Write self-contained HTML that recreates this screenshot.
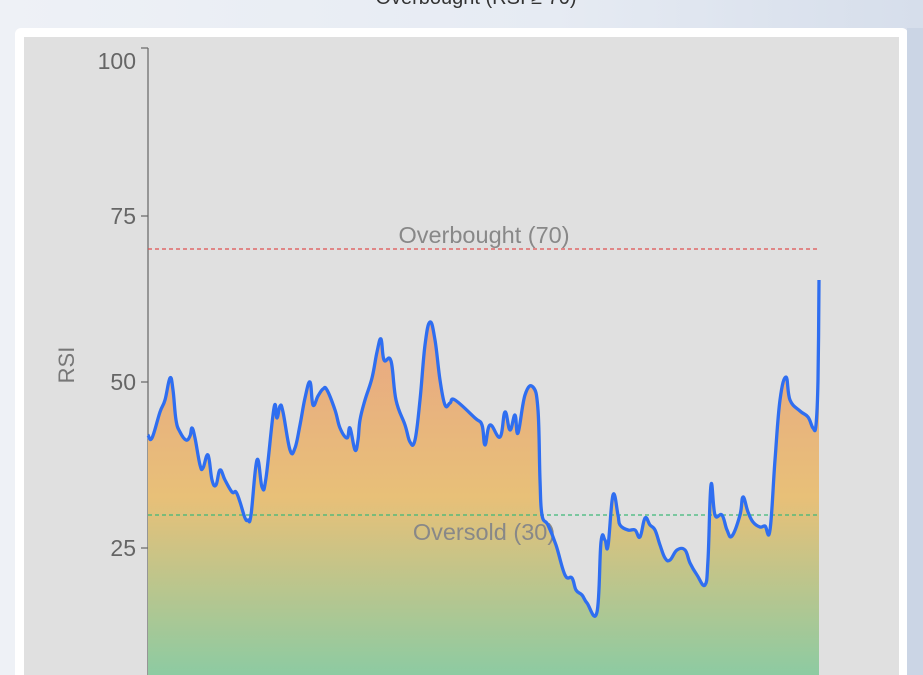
<!DOCTYPE html>
<html><head><meta charset="utf-8"><style>
html,body{margin:0;padding:0;width:923px;height:675px;overflow:hidden;}
body{background:linear-gradient(90deg,#eef1f6 0%,#e6ebf3 60%,#d6deeb 100%);font-family:"Liberation Sans",sans-serif;position:relative;}
.card{position:absolute;left:15px;top:28px;width:893px;height:647px;background:#fff;border-radius:6px 6px 0 0;}
.plot{position:absolute;left:24px;top:37px;width:875px;height:638px;background:#e0e0e0;}
.right{position:absolute;left:907px;top:28px;width:16px;height:647px;background:#cbd5e5;}
</style></head><body>
<div style="position:absolute;left:0;top:-13px;width:952px;text-align:center;font-size:20px;color:#333;">Overbought (RSI ≥ 70)</div>
<div class="card"></div><div class="right"></div><div class="plot"></div>
<svg width="923" height="675" style="position:absolute;left:0;top:0">
<defs><linearGradient id="g" gradientUnits="userSpaceOnUse" x1="0" y1="320" x2="0" y2="675">
<stop offset="0" stop-color="#e9a684"/><stop offset="0.5" stop-color="#e8c078"/><stop offset="1" stop-color="#8dcba2"/></linearGradient></defs>
<g font-family="Liberation Sans, sans-serif" font-size="23" fill="#666" text-anchor="end">
<text x="136" y="69">100</text><text x="136" y="224">75</text><text x="136" y="390">50</text><text x="136" y="556">25</text></g>
<text transform="translate(74,365) rotate(-90)" font-family="Liberation Sans, sans-serif" font-size="22" fill="#777" text-anchor="middle">RSI</text>
<g stroke="#666" stroke-width="1.2"><line x1="148" y1="48" x2="148" y2="675"/><line x1="141" y1="48" x2="148" y2="48"/><line x1="141" y1="216" x2="148" y2="216"/><line x1="141" y1="382" x2="148" y2="382"/><line x1="141" y1="548" x2="148" y2="548"/></g>
<path id="fillp" fill="url(#g)" d=""/>
<line x1="148" y1="249" x2="818" y2="249" stroke="#e05050" stroke-width="1.3" stroke-dasharray="4,3"/>
<line x1="148" y1="515" x2="818" y2="515" stroke="#3cb878" stroke-width="1.3" stroke-dasharray="4,3"/>
<g font-family="Liberation Sans, sans-serif" font-size="23.5" fill="#888" text-anchor="middle"><text x="484" y="243">Overbought (70)</text><text x="484" y="540">Oversold (30)</text></g>
<path id="linep" fill="none" stroke="#2f6ef0" stroke-width="3.3" stroke-linejoin="round" d=""/>
</svg>
<script>
var s="148,435 152,438 160,412 165,400 170,378 173,390 176,420 180,432 186,440 190,436 192,428 195,438 200,465 203,468 208,455 212,480 216,485 220,470 225,480 232,492 236,492 240,502 245,518 248,520 251,515 257,460 262,487 266,478 274,408 277,418 280,406 283,412 290,450 295,448 300,425 305,398 310,382 313,405 318,396 323,389 327,390 335,410 340,428 347,438 350,428 355,450 358,440 360,420 365,400 372,378 377,352 381,339 384,360 391,361 396,400 405,425 410,442 415,440 420,400 425,345 430,322 435,340 440,380 445,405 450,403 455,400 475,418 482,425 485,445 490,425 500,437 505,412 510,430 515,415 518,433 525,395 533,387 538,410 540,480 542,515 548,525 556,545 565,575 572,578 576,590 582,595 587,603 597,612 601,542 605,540 608,546 613,495 618,515 620,525 628,530 635,530 640,537 645,518 650,525 655,530 660,545 665,558 670,560 677,550 685,550 690,563 697,575 705,585 708,560 711,485 715,515 722,515 727,530 732,536 740,515 743,497 748,512 753,522 760,527 765,526 770,530 775,460 780,400 786,377 790,400 800,411 808,417 813,428 816,425 818,380 819,280";
var p=s.split(" ").map(function(a){return a.split(",").map(Number);});
var d="M"+p[0][0]+","+p[0][1];
for(var i=0;i<p.length-1;i++){var p0=p[Math.max(0,i-1)],p1=p[i],p2=p[i+1],p3=p[Math.min(p.length-1,i+2)],t=0.2;
var c1x=p1[0]+(p2[0]-p0[0])*t,c1y=p1[1]+(p2[1]-p0[1])*t,c2x=p2[0]-(p3[0]-p1[0])*t,c2y=p2[1]-(p3[1]-p1[1])*t;
d+=" C"+c1x.toFixed(1)+","+c1y.toFixed(1)+" "+c2x.toFixed(1)+","+c2y.toFixed(1)+" "+p2[0]+","+p2[1];}
document.getElementById("linep").setAttribute("d",d);
document.getElementById("fillp").setAttribute("d",d+" L819,675 L148,675 Z");
</script>
</body></html>
